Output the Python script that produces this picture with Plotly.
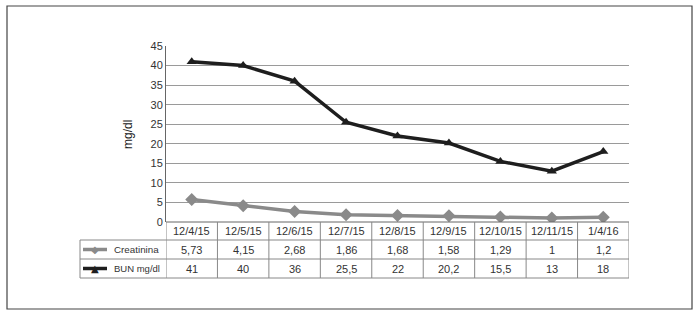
import plotly.graph_objects as go

dates = ["12/4/15", "12/5/15", "12/6/15", "12/7/15", "12/8/15", "12/9/15", "12/10/15", "12/11/15", "1/4/16"]
creatinina = [5.73, 4.15, 2.68, 1.86, 1.68, 1.58, 1.29, 1, 1.2]
bun = [41, 40, 36, 25.5, 22, 20.2, 15.5, 13, 18]
series_names = ["Creatinina", "BUN mg/dl"]
y_ticks = [0, 5, 10, 15, 20, 25, 30, 35, 40, 45]

W, H = 700, 316
L, R, T, B = 166, 629, 46, 222
ph = B - T

def py(px):
    return (B - px) / ph

def px_x(px):
    return (px - L) / (R - L)

FONT = "Liberation Sans, Arial, sans-serif"
GRAY = "#8a8a8a"
DARK = "#1e1e1e"
LINE = "#888888"

fig = go.Figure()
x = list(range(len(dates)))
fig.add_trace(go.Scatter(x=x, y=creatinina, mode="lines+markers", name=series_names[0],
                         line=dict(color=GRAY, width=3.5),
                         marker=dict(symbol="diamond", size=10, color=GRAY)))
fig.add_trace(go.Scatter(x=x, y=bun, mode="lines+markers", name=series_names[1],
                         line=dict(color=DARK, width=3.5),
                         marker=dict(symbol="triangle-up", size=9, color=DARK)))

shapes = []
annotations = []

shapes.append(dict(type="rect", xref="paper", yref="paper",
                   x0=px_x(7), x1=px_x(692), y0=py(309), y1=py(6),
                   line=dict(color="#444", width=1.2)))

row_tops = [222, 240, 259, 278]
shapes.append(dict(type="line", xref="paper", yref="paper", x0=0, x1=1, y0=py(222), y1=py(222),
                   line=dict(color="#666", width=1)))
for yy in row_tops[1:]:
    shapes.append(dict(type="line", xref="paper", yref="paper", x0=px_x(80), x1=1, y0=py(yy), y1=py(yy),
                       line=dict(color=LINE, width=1)))
for i in range(len(dates) + 1):
    shapes.append(dict(type="line", xref="x", yref="paper", x0=i - 0.5, x1=i - 0.5,
                       y0=py(278), y1=py(222), line=dict(color=LINE, width=1)))
shapes.append(dict(type="line", xref="paper", yref="paper", x0=px_x(80), x1=px_x(80),
                   y0=py(278), y1=py(240), line=dict(color=LINE, width=1)))

def cell(xv, yv, text, xref="x", xanchor="center", size=11):
    annotations.append(dict(x=xv, y=yv, xref=xref, yref="paper", text=text, showarrow=False,
                            xanchor=xanchor, yanchor="middle",
                            font=dict(family=FONT, size=size, color="#333")))

fmt = lambda v: (("%g" % v).replace(".", ","))
for i, d in enumerate(dates):
    cell(i, py(231), d)
    cell(i, py(249.5), fmt(creatinina[i]))
    cell(i, py(268.5), fmt(bun[i]))

cell(px_x(112), py(249.5), series_names[0], xref="paper", xanchor="left", size=9.8)
cell(px_x(112), py(268.5), series_names[1], xref="paper", xanchor="left", size=9.5)
for yy, col, sym in [(249.5, GRAY, "◆"), (268.5, DARK, "▲")]:
    shapes.append(dict(type="line", xref="paper", yref="paper", x0=px_x(83), x1=px_x(107),
                       y0=py(yy), y1=py(yy), line=dict(color=col, width=3.5)))
    annotations.append(dict(x=px_x(95), y=py(yy), xref="paper", yref="paper", text=sym,
                            showarrow=False, xanchor="center", yanchor="middle",
                            font=dict(family="DejaVu Sans", size=10, color=col)))

annotations.append(dict(x=px_x(128), y=py(135), xref="paper", yref="paper", text="mg/dl",
                        showarrow=False, textangle=-90, xanchor="center", yanchor="middle",
                        font=dict(family=FONT, size=12, color="#222")))

fig.update_layout(
    width=W, height=H,
    margin=dict(l=L, r=W - R, t=T, b=H - B),
    paper_bgcolor="white", plot_bgcolor="white",
    showlegend=False,
    shapes=shapes, annotations=annotations,
    xaxis=dict(range=[-0.5, len(dates) - 0.5], showticklabels=False, showgrid=False,
               zeroline=False, showline=False, ticks=""),
    yaxis=dict(range=[0, 45], tickvals=y_ticks, showgrid=True, gridcolor="#9a9a9a", gridwidth=1,
               zeroline=False, showline=True, linecolor="#666", linewidth=1, ticks="",
               tickfont=dict(family=FONT, size=11, color="#333")),
)

fig.write_html("out.html", config={"displayModeBar": False},
               post_script="document.body.style.margin='0';document.body.style.overflow='hidden';")
